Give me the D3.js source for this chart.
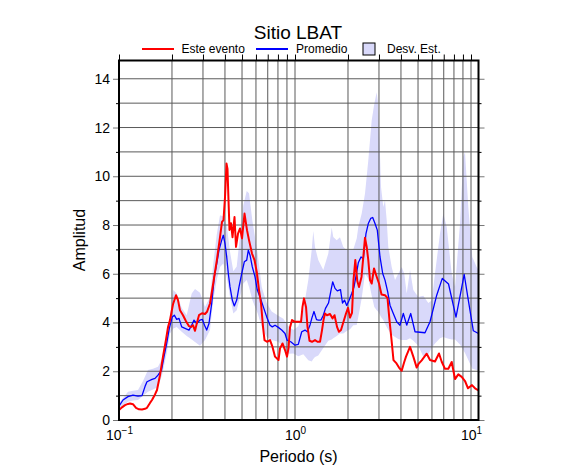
<!DOCTYPE html>
<html><head><meta charset="utf-8">
<script src="https://cdn.jsdelivr.net/npm/d3@7"></script>
<style>
body{margin:0;background:#fff;}
svg{display:block;font-family:"Liberation Sans",Arial,Helvetica,sans-serif;}
</style>
</head><body>
<svg id="c" width="586" height="475"></svg>
<script>
// ---------- DATA ----------
const title = "Sitio LBAT";
const xLabel = "Periodo (s)";
const yLabel = "Amplitud";
const legendLabels = ["Este evento", "Promedio", "Desv. Est."];

// Este evento (red)
const redT = [0.1000,0.1040,0.1082,0.1125,0.1155,0.1201,0.1249,0.1299,0.1351,0.1405,
0.1442,0.1500,0.1540,0.1602,0.1644,0.1710,0.1778,0.1849,0.1898,0.1949,
0.2027,0.2108,0.2164,0.2221,0.2310,0.2403,0.2499,0.2565,0.2633,0.2703,
0.2775,0.2848,0.2962,0.3081,0.3162,0.3289,0.3421,0.3605,0.3749,0.3848,
0.3924,0.4003,0.4082,0.4135,0.4190,0.4245,0.4329,0.4415,0.4532,0.4622,
0.4745,0.4871,0.4999,0.5166,0.5337,0.5479,0.5698,0.5888,0.6084,0.6245,
0.6411,0.6581,0.6711,0.6934,0.7212,0.7451,0.7700,0.8060,0.8220,0.8493,
0.8776,0.9008,0.9187,0.9370,0.9618,1.000,1.040,1.082,1.103,1.125,
1.155,1.178,1.209,1.249,1.299,1.342,1.387,1.424,1.452,1.480,
1.519,1.581,1.633,1.677,1.733,1.778,1.825,1.886,1.949,2.001,
2.054,2.108,2.150,2.201,2.259,2.310,2.387,2.444,2.499,2.555,
2.609,2.668,2.728,2.811,2.905,3.001,3.101,3.246,3.354,3.442,
3.534,3.627,3.774,3.899,4.039,4.162,4.272,4.503,4.701,4.915,
5.031,5.247,5.601,5.849,6.244,6.579,6.816,7.118,7.432,7.769,
8.112,8.469,8.854,9.245,9.615,10.13,10.54,11.03];
const redA = [0.41,0.52,0.61,0.66,0.68,0.65,0.50,0.44,0.43,0.46,
0.50,0.70,0.82,1.05,1.23,1.84,2.60,3.30,3.80,4.10,
4.75,5.12,4.92,4.50,4.30,4.05,3.85,3.82,3.89,3.66,
4.00,4.30,4.38,4.35,4.44,4.78,5.55,6.60,7.50,8.13,
8.20,9.15,10.52,10.30,9.00,7.80,8.07,7.50,8.33,7.10,
7.65,7.86,7.45,8.47,7.79,7.38,6.83,6.56,6.01,5.33,
4.78,3.82,3.28,3.21,3.28,3.00,2.60,2.46,2.94,3.14,
2.87,2.60,2.95,3.80,4.10,4.03,4.03,4.03,4.64,4.99,
4.64,3.82,3.25,3.21,3.28,3.21,3.21,3.69,4.10,4.37,
4.30,4.35,4.17,4.30,3.82,3.62,3.69,4.03,4.37,4.60,
4.20,4.40,5.74,6.56,5.70,5.46,5.87,6.69,7.48,7.10,
6.56,5.74,5.60,6.22,5.90,5.60,5.15,5.12,5.00,4.10,
3.30,2.46,2.32,2.15,2.02,2.35,2.60,3.00,2.60,2.15,
2.30,2.45,2.72,2.46,2.40,2.73,2.39,2.10,2.10,2.38,
1.68,1.87,1.77,1.60,1.30,1.43,1.30,1.22];

// Promedio (blue)
const blueT = [0.1000,0.1054,0.1125,0.1201,0.1282,0.1351,0.1405,0.1442,0.1540,0.1602,
0.1666,0.1744,0.1802,0.1866,0.1931,0.2008,0.2062,0.2127,0.2192,0.2271,
0.2372,0.2499,0.2589,0.2668,0.2764,0.2886,0.2974,0.3061,0.3150,0.3246,
0.3363,0.3479,0.3591,0.3700,0.3833,0.3914,0.4003,0.4092,0.4179,0.4273,
0.4404,0.4520,0.4665,0.4807,0.4980,0.5152,0.5317,0.5429,0.5552,0.5721,
0.5927,0.6108,0.6328,0.6607,0.6907,0.7212,0.7432,0.7700,0.8039,0.8405,
0.8776,0.9008,0.9456,1.000,1.044,1.092,1.140,1.175,1.217,1.249,
1.282,1.325,1.360,1.405,1.448,1.490,1.550,1.595,1.637,1.688,
1.739,1.813,1.861,1.911,1.967,2.027,2.100,2.164,2.221,2.289,
2.371,2.444,2.531,2.609,2.692,2.764,2.848,2.935,3.041,3.150,
3.246,3.363,3.465,3.618,3.783,3.950,4.125,4.312,4.544,4.807,
5.132,5.478,5.849,6.385,6.869,7.451,8.218,9.149,9.653,10.31,
11.03];
const blueA = [0.57,0.82,0.96,1.02,0.98,1.00,1.37,1.57,1.67,1.71,
1.84,2.05,2.60,3.14,3.76,4.23,4.30,4.13,4.17,3.82,
3.76,3.69,3.89,4.10,3.96,4.10,4.13,3.89,3.69,3.96,
4.78,5.87,6.42,6.97,7.38,7.58,7.24,6.69,6.01,5.46,
4.92,4.68,4.92,5.46,6.01,6.49,6.56,6.97,6.76,6.28,
5.87,5.33,5.05,4.64,4.23,3.89,3.82,3.89,3.80,3.69,
3.55,3.28,3.21,3.07,3.10,3.62,3.69,3.62,3.90,4.20,
4.45,4.12,4.10,4.10,4.30,4.58,4.80,5.26,5.67,5.40,
5.30,5.35,4.80,4.92,4.70,4.90,5.19,5.46,5.90,6.45,
6.69,6.62,7.65,8.06,8.27,8.31,8.06,7.79,6.69,6.01,
5.74,5.26,4.71,4.37,4.03,3.89,4.37,3.89,4.37,3.62,
3.60,3.58,4.03,5.12,5.81,5.58,4.22,5.97,4.92,3.66,
3.55];

// Desv. Est. (band)
const bandT = [0.1000,0.1068,0.1125,0.1201,0.1282,0.1369,0.1461,0.1560,0.1666,0.1755,
0.1866,0.1949,0.2035,0.2127,0.2271,0.2425,0.2589,0.2703,0.2886,0.3081,
0.3289,0.3434,0.3591,0.3749,0.3914,0.4092,0.4273,0.4462,0.4665,0.4871,
0.5085,0.5317,0.5479,0.5721,0.6140,0.6470,0.6907,0.7374,0.8039,0.8583,
0.9163,0.9783,1.044,1.115,1.190,1.244,1.270,1.299,1.356,1.448,
1.546,1.616,1.650,1.726,1.801,1.881,1.967,2.054,2.144,2.242,
2.289,2.393,2.499,2.609,2.728,2.822,2.912,2.962,3.021,3.081,
3.175,3.246,3.319,3.389,3.543,3.700,3.863,4.039,4.178,4.312,
4.503,4.701,5.019,5.358,5.720,5.981,6.244,6.666,6.960,7.278,
7.769,8.112,8.660,9.042,9.245,9.653,10.17,10.77,11.03];
const bandLo = [0.48,0.62,0.75,0.80,0.82,1.00,1.16,1.25,1.35,1.84,
2.73,3.55,3.75,3.82,3.62,3.45,3.30,3.20,3.05,3.28,
3.69,4.92,5.74,6.28,6.42,5.87,5.05,4.37,4.50,5.05,
5.60,5.74,5.46,4.92,4.37,3.82,3.41,3.28,3.21,3.00,
2.72,2.73,2.62,2.70,2.45,2.40,2.50,2.58,2.65,2.95,
3.25,3.30,3.35,3.45,3.55,3.55,3.65,3.72,3.89,3.90,
4.23,5.00,6.01,5.80,5.10,4.64,4.50,4.45,4.35,4.23,
4.10,3.95,3.82,3.70,3.50,3.41,3.32,3.28,3.28,3.28,
3.35,3.25,3.05,2.60,2.70,2.95,3.14,3.35,3.41,3.35,
3.30,3.30,3.10,2.87,2.75,2.46,2.10,2.05,2.05];
const bandHi = [0.70,0.95,1.16,1.20,1.23,1.60,2.05,2.10,2.18,2.50,
3.50,4.30,5.33,5.19,4.60,4.30,5.19,5.37,5.22,4.64,
5.05,6.42,7.60,8.40,8.35,8.00,6.90,6.10,6.30,7.60,
8.80,9.40,9.30,8.20,6.80,5.46,4.80,4.45,4.28,4.15,
3.85,3.69,3.85,4.50,5.74,6.97,7.75,7.10,6.56,6.15,
6.83,7.90,7.51,7.38,7.50,7.10,6.97,6.97,7.00,7.45,
7.92,8.47,9.29,10.66,12.30,12.98,13.45,13.00,11.50,9.56,
8.74,9.02,8.20,7.10,6.28,5.74,6.01,6.28,6.00,5.19,
6.15,5.33,5.05,5.10,4.80,4.90,6.01,7.65,8.47,7.92,
6.01,5.46,8.06,10.80,11.00,8.74,6.69,6.28,6.15];

// axis values
const xDomain = [0.1, 11.03];
const yDomain = [0, 14.75];
const xGridT = [0.2,0.3,0.4,0.5,0.6,0.7,0.8,0.9,1,2,3,4,5,6,7,8,9,10];
const xTopTicks = [0.1,0.2,0.3,0.4,0.5,0.6,0.7,0.8,0.9,1,2,3,4,5,6,7,8,9,10];
const xLabelT = [0.1, 1, 10];
const xLabelExp = ["\u22121", "0", "1"];
const yTicks = [0,1,2,3,4,5,6,7,8,9,10,11,12,13,14];
const yLabelTicks = [0,2,4,6,8,10,12,14];

// ---------- CHART ----------
const svg = d3.select("#c");
const L = 119, R = 478.5, T = 60.5, B = 420;
const x = d3.scaleLog().domain(xDomain).range([L, R]);
const y = d3.scaleLinear().domain(yDomain).range([B, T]);

const bandColor = "#d9d9fa";

svg.append("defs").append("clipPath").attr("id","clip")
  .append("rect").attr("x",L).attr("y",T).attr("width",R-L).attr("height",B-T);

const plot = svg.append("g").attr("clip-path","url(#clip)");

// band
const bandData = bandT.map((t,i)=>({t, lo: bandLo[i], hi: bandHi[i]}));
plot.append("path").datum(bandData)
  .attr("fill", bandColor).attr("stroke","none")
  .attr("d", d3.area().x(d=>x(d.t)).y0(d=>y(d.lo)).y1(d=>y(d.hi)));

// grid
const gridColor = "#5a5a5a";
plot.append("g").selectAll("line").data(xGridT).join("line")
  .attr("x1", d=>x(d)).attr("x2", d=>x(d)).attr("y1", T).attr("y2", B)
  .attr("stroke", gridColor).attr("stroke-width", 1);
plot.append("g").selectAll("line").data(yTicks.filter(v=>v>0)).join("line")
  .attr("x1", L).attr("x2", R).attr("y1", d=>y(d)).attr("y2", d=>y(d))
  .attr("stroke", gridColor).attr("stroke-width", 1);

// lines
const line = d3.line().x(d=>x(d[0])).y(d=>y(d[1]));
plot.append("path").datum(blueT.map((t,i)=>[t, blueA[i]]))
  .attr("fill","none").attr("stroke","#0000ff").attr("stroke-width",1.3)
  .attr("stroke-linejoin","round").attr("d", line);
plot.append("path").datum(redT.map((t,i)=>[t, redA[i]]))
  .attr("fill","none").attr("stroke","#ff0000").attr("stroke-width",2)
  .attr("stroke-linejoin","round").attr("d", line);

// left axis
const gl = svg.append("g").attr("transform",`translate(${L},0)`)
  .call(d3.axisLeft(y).tickValues(yTicks).tickSize(6).tickPadding(4)
    .tickFormat(d => yLabelTicks.includes(d) ? d : ""));
gl.select(".domain").remove();
gl.selectAll(".tick line")
  .attr("x2", d => yLabelTicks.includes(d) ? -6 : -3)
  .attr("stroke", d => yLabelTicks.includes(d) ? "#777" : "#000")
  .attr("stroke-width", 1);
gl.selectAll(".tick text").attr("font-size", 14).attr("fill","#000")
  .attr("font-family","Liberation Sans, Arial, sans-serif").attr("x", -9);

// right axis ticks
const gr = svg.append("g").attr("transform",`translate(${R},0)`)
  .call(d3.axisRight(y).tickValues(yTicks).tickSize(6).tickFormat(""));
gr.select(".domain").remove();
gr.selectAll(".tick line")
  .attr("x2", d => yLabelTicks.includes(d) ? 6 : 3)
  .attr("stroke", d => yLabelTicks.includes(d) ? "#777" : "#000");

// top axis ticks
const gt = svg.append("g").attr("transform",`translate(0,${T})`)
  .call(d3.axisTop(x).tickValues(xTopTicks).tickSize(6).tickFormat(""));
gt.select(".domain").remove();
gt.selectAll(".tick line").attr("stroke","#000").attr("stroke-width",1);

// bottom axis labels
const gb = svg.append("g").attr("transform",`translate(0,${B})`)
  .call(d3.axisBottom(x).tickValues(xLabelT).tickSize(0).tickFormat(""));
gb.select(".domain").remove();
gb.selectAll(".tick").each(function(d,i){
  const t = d3.select(this).append("text")
    .attr("y", 20).attr("text-anchor","middle").attr("fill","#000")
    .attr("font-size",14).attr("font-family","Liberation Sans, Arial, sans-serif");
  t.append("tspan").text("10");
  t.append("tspan").attr("dy",-6).attr("font-size",10).text(xLabelExp[i]);
});

// frame
svg.append("rect").attr("x",L).attr("y",T).attr("width",R-L).attr("height",B-T)
  .attr("fill","none").attr("stroke","#000").attr("stroke-width",2);

// titles
svg.append("text").attr("x",298).attr("y",39).attr("text-anchor","middle")
  .attr("font-size",19).text(title);
svg.append("text").attr("x",298.5).attr("y",462).attr("text-anchor","middle")
  .attr("font-size",16).text(xLabel);
svg.append("text").attr("transform","translate(85,240) rotate(-90)")
  .attr("text-anchor","middle").attr("font-size",16).text(yLabel);

// legend
const lg = svg.append("g").attr("font-size",12);
lg.append("line").attr("x1",142).attr("x2",174).attr("y1",49).attr("y2",49)
  .attr("stroke","#ff0000").attr("stroke-width",2);
lg.append("text").attr("x",181.5).attr("y",53).text(legendLabels[0]);
lg.append("line").attr("x1",256).attr("x2",288).attr("y1",49).attr("y2",49)
  .attr("stroke","#0000ff").attr("stroke-width",2);
lg.append("text").attr("x",296).attr("y",53).text(legendLabels[1]);
lg.append("rect").attr("x",363).attr("y",43).attr("width",12).attr("height",12)
  .attr("fill",bandColor).attr("stroke","#000").attr("stroke-width",1);
lg.append("text").attr("x",387).attr("y",53).text(legendLabels[2]);
</script>
</body></html>
